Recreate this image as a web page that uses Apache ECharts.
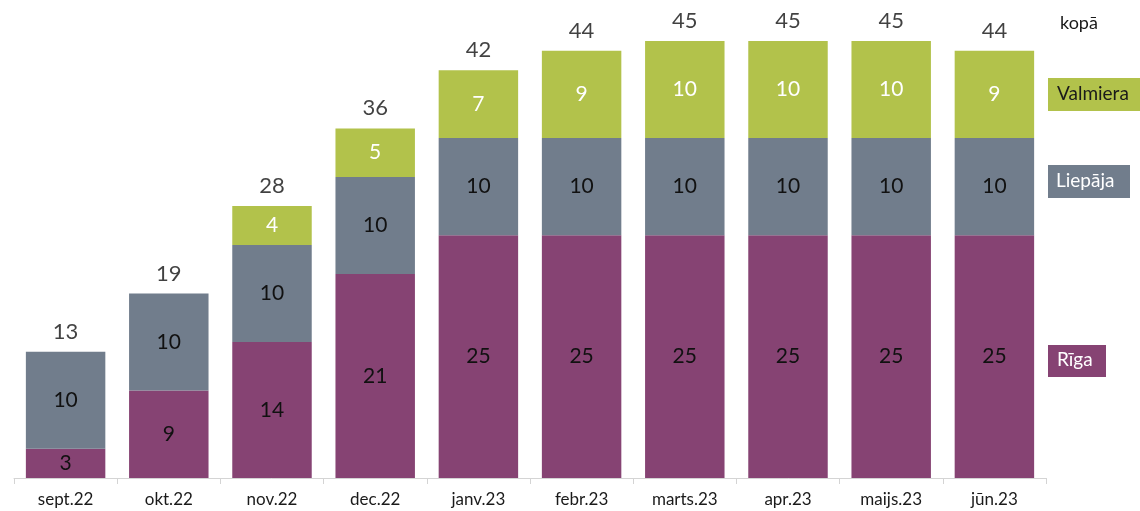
<!DOCTYPE html>
<html>
<head>
<meta charset="utf-8">
<script src="https://cdn.jsdelivr.net/npm/echarts@6/dist/echarts.min.js"></script>
<style>
  html, body { margin: 0; padding: 0; background: #ffffff; }
  #chart { width: 1140px; height: 511px; }
</style>
</head>
<body>
<div id="chart"></div>
<script>
// Monthly counts per city, stacked
const months = ['sept.22', 'okt.22', 'nov.22', 'dec.22', 'janv.23', 'febr.23', 'marts.23', 'apr.23', 'maijs.23', 'jūn.23'];
const riga     = [3, 9, 14, 21, 25, 25, 25, 25, 25, 25];
const liepaja  = [10, 10, 10, 10, 10, 10, 10, 10, 10, 10];
const valmiera = [null, null, 4, 5, 7, 9, 10, 10, 10, 9];
const totals = months.map((_, i) => (riga[i] || 0) + (liepaja[i] || 0) + (valmiera[i] || 0));

const FONT = 'Lato, "Open Sans", sans-serif';
const C_RIGA = '#864373';
const C_LIEP = '#717d8c';
const C_VALM = '#b2c24b';

const chart = echarts.init(document.getElementById('chart'), null, { renderer: 'canvas' });

function seg(name, data, color, labelColor) {
  return {
    name, type: 'bar', stack: 'all', data,
    barCategoryGap: '23%',
    itemStyle: { color },
    label: {
      show: true, position: 'inside', color: labelColor,
      fontFamily: FONT, fontSize: 21,
      formatter: p => (p.value ? p.value : '')
    }
  };
}

chart.setOption({
  animation: false,
  grid: { left: 14, right: 94, top: 41, bottom: 33 },
  xAxis: {
    type: 'category', data: months,
    axisLine: { lineStyle: { color: '#d4d4d4', width: 1 } },
    axisTick: { show: true, length: 6, lineStyle: { color: '#d4d4d4' } },
    axisLabel: { color: '#1a1a1a', fontFamily: FONT, fontSize: 17, margin: 13 }
  },
  yAxis: { type: 'value', min: 0, max: 45, show: false, splitLine: { show: false } },
  series: [
    seg('Rīga', riga, C_RIGA, '#111111'),
    seg('Liepāja', liepaja, C_LIEP, '#111111'),
    seg('Valmiera', valmiera, C_VALM, '#ffffff'),
    {
      name: 'kopā', type: 'scatter', data: totals, symbolSize: 0,
      label: {
        show: true, position: 'top', distance: 9, color: '#111111',
        fontFamily: FONT, fontSize: 22, formatter: p => p.value
      },
      silent: true
    }
  ],
  graphic: [
    { type: 'text', left: 1060, top: 14, style: { text: 'kopā', fontFamily: FONT, fontSize: 18, fill: '#1a1a1a' } },
    {
      type: 'group', left: 1048, top: 78, children: [
        { type: 'rect', shape: { x: 0, y: 0, width: 92, height: 33 }, style: { fill: C_VALM } },
        { type: 'text', x: 9, y: 6, style: { text: 'Valmiera', fontFamily: FONT, fontSize: 19, fill: '#1a1a1a' } }
      ]
    },
    {
      type: 'group', left: 1048, top: 165, children: [
        { type: 'rect', shape: { x: 0, y: 0, width: 82, height: 33 }, style: { fill: C_LIEP } },
        { type: 'text', x: 8, y: 6, style: { text: 'Liepāja', fontFamily: FONT, fontSize: 19, fill: '#ffffff' } }
      ]
    },
    {
      type: 'group', left: 1048, top: 345, children: [
        { type: 'rect', shape: { x: 0, y: 0, width: 58, height: 32 }, style: { fill: C_RIGA } },
        { type: 'text', x: 9, y: 5, style: { text: 'Rīga', fontFamily: FONT, fontSize: 19, fill: '#ffffff' } }
      ]
    }
  ]
});
</script>
</body>
</html>
